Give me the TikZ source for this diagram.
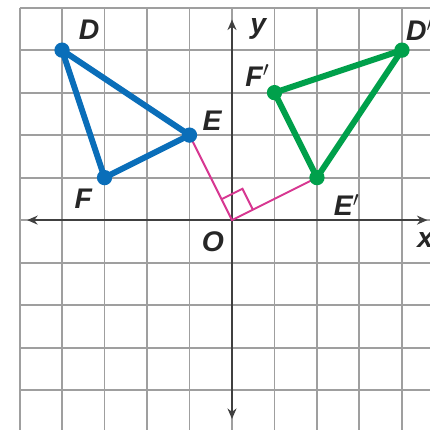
\documentclass[tikz,border=0pt]{standalone}
\usepackage{fontspec}
\usetikzlibrary{arrows.meta,calc}
\newfontfamily\lblfont{Liberation Sans}
\definecolor{triblue}{RGB}{10,110,185}
\definecolor{trigreen}{RGB}{0,160,75}
\definecolor{rotpink}{RGB}{215,55,145}
\begin{document}
\begin{tikzpicture}[
  gridline/.style={gray!75, line width=1.3pt},
  axis/.style={black!75, line width=1.6pt, -{Stealth[length=7pt,width=6pt]}},
  lbl/.style={font=\lblfont\bfseries\itshape\fontsize{19}{19}\selectfont, text=black!85, inner sep=0pt},
  bdot/.style={circle, fill=triblue, inner sep=0pt, minimum size=0.36cm},
  gdot/.style={circle, fill=trigreen, inner sep=0pt, minimum size=0.36cm},
  tri/.style={line width=4pt, line join=round}
]
\useasboundingbox (-5.46,-4.94) rectangle (4.66,5.18);
\clip (-5.46,-4.94) rectangle (4.66,5.18);
\fill[white] (-5.46,-4.94) rectangle (4.66,5.18);
\draw[gridline] (-5,-4.94) grid (4.66,5);
\coordinate (xl) at (-4.82,0);
\coordinate (xr) at (4.6,0);
\coordinate (yt) at (0,4.72);
\coordinate (yb) at (0,-4.68);
\draw[axis] (0,0) -- (xr);
\draw[axis] (0,0) -- (xl);
\draw[axis] (0,0) -- (yt);
\draw[axis] (0,0) -- (yb);
% rotation lines
\coordinate (O) at (0,0);
\coordinate (Ep) at (2,1);
\coordinate (Eo) at (-1,2);
\draw[rotpink, line width=1.3pt] (Eo) -- (O) -- (Ep);
\draw[rotpink, line width=1.3pt] ($(O)!0.55cm!(Eo)$) -- ++(0.492,0.246) -- ($(O)!0.55cm!(Ep)$);
% triangle DEF
\node[bdot] (D) at (-4,4) {};
\node[bdot] (E) at (-1,2) {};
\node[bdot] (F) at (-3,1) {};
\draw[tri, triblue] (D.center) -- (E.center) -- (F.center) -- cycle;
% triangle D'E'F'
\node[gdot] (D1) at (4,4) {};
\node[gdot] (E1) at (2,1) {};
\node[gdot] (F1) at (1,3) {};
\draw[tri, trigreen] (D1.center) -- (E1.center) -- (F1.center) -- cycle;
% labels
\node[lbl] (dlbl) at (-3.36,4.47) {D};
\node[lbl] (elbl) at (-0.47,2.35) {E};
\node[lbl] (flbl) at (-3.5,0.5) {F};
\node[lbl] (d1lbl) at (4.42,4.47) {D$'$};
\node[lbl] (e1lbl) at (2.7,0.35) {E$'$};
\node[lbl] (f1lbl) at (0.6,3.4) {F$'$};
\node[lbl] (olbl) at (-0.45,-0.52) {O};
\node[lbl] (ylbl) at (0.62,4.5) {y};
\node[lbl] (xlbl) at (4.55,-0.48) {x};
\end{tikzpicture}
\end{document}
